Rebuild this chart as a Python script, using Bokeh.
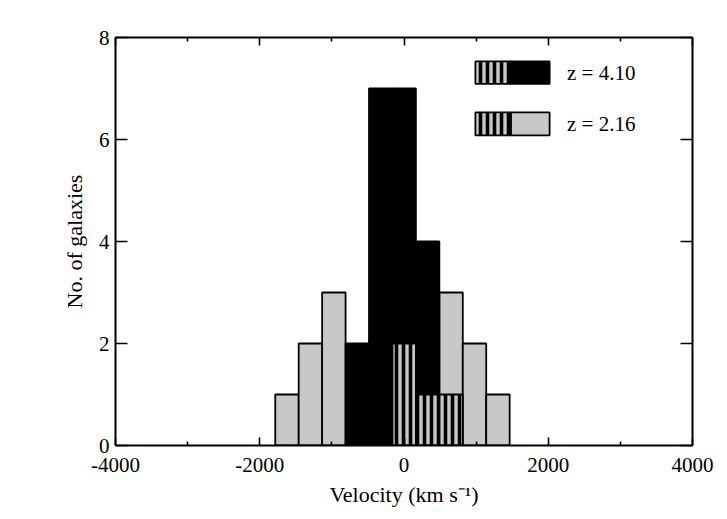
from bokeh.plotting import figure
from bokeh.models import Range1d, LinearAxis, FixedTicker, Label
from bokeh.embed import file_html
from bokeh.resources import INLINE

# ---- data ----
bin_start = -1785          # km/s, left edge of first bin
bin_width = 325            # km/s
z216_counts = [1, 2, 3, 0, 0, 0, 0, 3, 2, 1]
z410_counts = [0, 0, 0, 2, 7, 7, 4, 0, 0, 0]
z410_sub_counts = [0, 0, 0, 0, 0, 2, 1, 0, 0, 0]
z216_sub_counts = [0, 0, 0, 0, 0, 0, 0, 1, 0, 0]
legend_labels = ["z = 4.10", "z = 2.16"]
x_ticks = [-4000, -2000, 0, 2000, 4000]
x_minor = [-3000, -1000, 1000, 3000]
y_ticks = [0, 2, 4, 6, 8]

FONT = "Liberation Serif"
FS = "21px"
GRAY = "#c8c8c8"

p = figure(width=720, height=512, x_range=Range1d(-4000, 4000), y_range=Range1d(0, 8),
           output_backend="svg", toolbar_location=None,
           min_border_left=115, min_border_right=28, min_border_top=37, min_border_bottom=67)
p.xgrid.visible = False
p.ygrid.visible = False
p.outline_line_color = None
p.background_fill_color = "white"
p.border_fill_color = "white"

def bars(counts):
    L, R, T = [], [], []
    for i, c in enumerate(counts):
        if c > 0:
            L.append(bin_start + i * bin_width)
            R.append(bin_start + (i + 1) * bin_width)
            T.append(c)
    return L, R, T

L, R, T = bars(z216_counts)
p.quad(left=L, right=R, bottom=0, top=T, fill_color=GRAY, line_color="black", line_width=1.8)
L, R, T = bars(z410_counts)
p.quad(left=L, right=R, bottom=0, top=T, fill_color="black", line_color="black", line_width=1.8)
for sub in (z410_sub_counts, z216_sub_counts):
    L, R, T = bars(sub)
    p.quad(left=L, right=R, bottom=0, top=T, fill_color=GRAY, line_color="black", line_width=1.8,
           hatch_pattern="|", hatch_color="black", hatch_scale=7, hatch_weight=3.6)

# ---- legend (drawn by hand) ----
leg_x0, leg_xm, leg_x1 = 990, 1484, 2019
leg_rows = [(7.09, 7.53, "black"), (6.08, 6.53, GRAY)]
for (b, t, col), lab in zip(leg_rows, legend_labels):
    p.quad(left=[leg_x0], right=[leg_xm], bottom=[b], top=[t], fill_color=GRAY, line_color="black",
           line_width=1.8, hatch_pattern="|", hatch_color="black", hatch_scale=7, hatch_weight=3.6)
    p.quad(left=[leg_xm], right=[leg_x1], bottom=[b], top=[t], fill_color=col, line_color="black",
           line_width=1.8)
    p.add_layout(Label(x=2260, y=(b + t) / 2, text=lab, text_font=FONT, text_font_size=FS,
                       text_baseline="middle", text_align="left", text_color="black"))

# ---- axes ----
xt = FixedTicker(ticks=x_ticks, minor_ticks=x_minor)
yt = FixedTicker(ticks=y_ticks, minor_ticks=[])

def style(ax, tick_in, minor_in):
    ax.axis_line_width = 2
    ax.axis_line_color = "black"
    ax.major_tick_in = tick_in
    ax.major_tick_out = 0
    ax.minor_tick_in = minor_in
    ax.minor_tick_out = 0
    ax.major_tick_line_width = 1.6
    ax.minor_tick_line_width = 1.6
    ax.major_tick_line_color = "black"
    ax.minor_tick_line_color = "black"
    ax.major_label_text_font = FONT
    ax.major_label_text_font_size = FS
    ax.major_label_text_color = "black"
    ax.axis_label_text_font = FONT
    ax.axis_label_text_font_size = "22px"
    ax.axis_label_text_font_style = "normal"
    ax.axis_label_text_color = "black"

xa = p.xaxis[0]
xa.ticker = xt
style(xa, 8, 4)
xa.major_label_standoff = 12
xa.major_label_overrides = {t: str(t) for t in x_ticks}
xa.axis_label = "Velocity (km s\u207b\u00b9)"
xa.axis_label_standoff = 7

ya = p.yaxis[0]
ya.ticker = yt
style(ya, 12, 0)
ya.major_label_standoff = 6
ya.axis_label = "No. of galaxies"
ya.axis_label_standoff = 9

top = LinearAxis(ticker=xt)
style(top, 8, 4)
top.major_label_overrides = {t: "" for t in x_ticks}
top.major_label_standoff = 0
p.add_layout(top, "above")
right = LinearAxis(ticker=yt)
style(right, 12, 0)
right.major_label_overrides = {t: "" for t in y_ticks}
right.major_label_standoff = 0
p.add_layout(right, "right")

open("out.html", "w").write(file_html(p, INLINE))
